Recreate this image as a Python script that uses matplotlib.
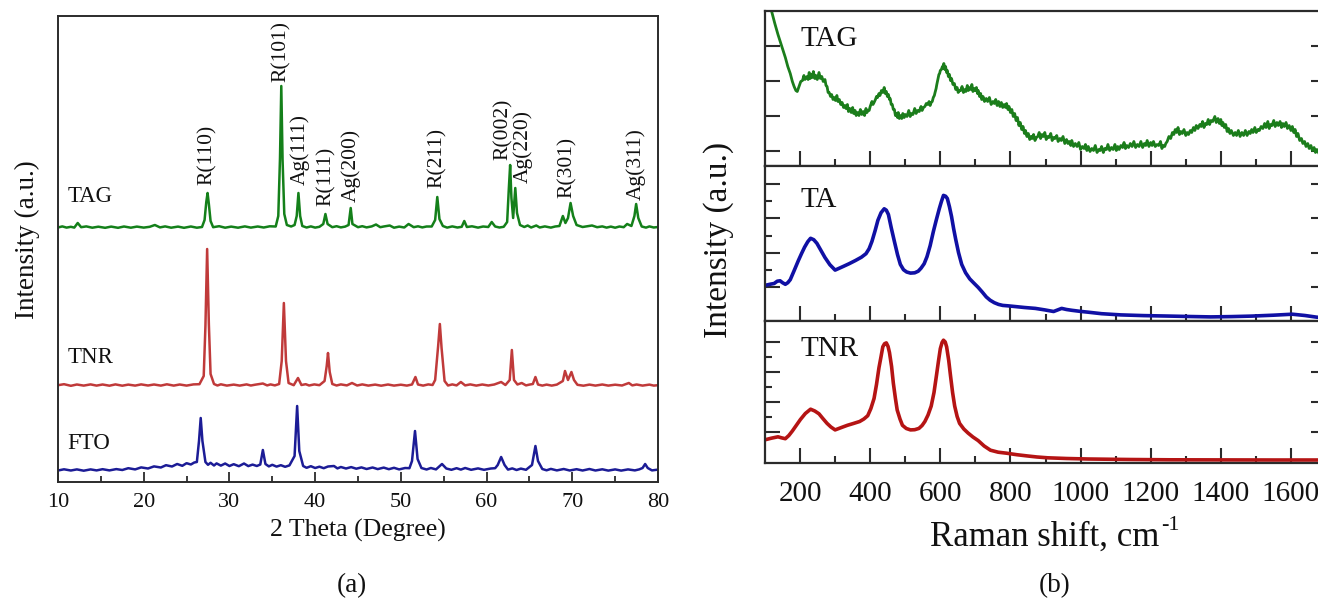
import matplotlib.pyplot as plt
import numpy as np

plt.rcParams['font.family'] = ['Liberation Serif', 'DejaVu Serif']

# ---------------- data: XRD (2theta, counts above own baseline) ----------------
xrd_samples = ["TAG", "TNR", "FTO"]
xrd_offsets = [254, 96, 11]

tag_xrd = [
    (10.0, 0.5), (10.5, 1.6), (11.0, 0.4), (11.5, 1.2), (11.9, 0.4), (12.3, 5), (12.7, 0.8),
    (13.3, 1.6), (14.0, 0.3), (14.7, 1.3), (15.5, 0.2), (16.2, 1.4), (17.0, 0.2), (17.7, 1.5),
    (18.5, 0.3), (19.2, 1.4), (20.0, 0.4), (20.7, 1.2), (21.3, 3), (21.9, 0.6), (22.5, 1.6),
    (23.2, 0.3), (24.0, 1.4), (24.7, 0.2), (25.5, 1.5), (26.2, 0.3), (26.8, 1.0), (27.1, 8),
    (27.3, 26), (27.45, 35), (27.6, 24), (27.8, 7), (28.1, 0.8), (28.8, 1.8), (29.5, 0.3),
    (30.2, 1.4), (31.0, 0.3), (31.8, 1.6), (32.5, 0.4), (33.3, 1.5), (34.0, 0.5), (34.7, 1.7),
    (35.4, 1.5), (35.7, 12), (35.9, 70), (36.05, 142), (36.2, 68), (36.4, 14), (36.7, 3),
    (37.2, 1.5), (37.6, 3), (37.85, 12), (38.05, 35), (38.25, 12), (38.5, 2), (39.0, 0.5),
    (39.5, 1.6), (40.0, 0.4), (40.5, 1.2), (40.95, 4), (41.2, 14), (41.45, 4), (42.0, 0.8),
    (42.5, 1.8), (43.0, 0.6), (43.5, 1.4), (43.9, 3), (44.15, 20), (44.35, 4), (45.0, 0.8),
    (45.5, 1.8), (46.0, 0.6), (46.6, 1.6), (47.1, 3.5), (47.6, 0.8), (48.0, 1.5), (48.7, 2.5),
    (49.2, 0.3), (49.8, 1.4), (50.4, 0.5), (50.9, 4), (51.5, 0.8), (52.0, 1.7), (52.5, 0.6),
    (53.0, 1.5), (53.6, 1.5), (54.0, 8), (54.25, 31), (54.5, 9), (54.9, 2), (55.4, 0.4),
    (56.0, 1.6), (56.6, 0.5), (57.1, 1.2), (57.4, 7), (57.7, 1), (58.3, 1.7), (59.0, 0.4),
    (59.6, 1.5), (60.2, 1.0), (60.6, 6), (61.0, 1.5), (61.5, 0.5), (62.0, 1.2), (62.4, 6),
    (62.6, 40), (62.75, 63), (62.9, 30), (63.1, 10), (63.35, 40), (63.55, 15), (63.9, 3),
    (64.4, 1), (64.8, 2.5), (65.2, 0.5), (65.8, 2.5), (66.2, 0.5), (66.8, 1.6), (67.5, 0.4),
    (68.0, 1.5), (68.5, 2), (68.9, 12), (69.2, 5), (69.5, 10), (69.8, 25), (70.1, 12),
    (70.5, 3), (71.2, 1), (71.8, 1.8), (72.3, 2.5), (72.9, 0.8), (73.5, 1.6), (74.0, 0.4),
    (74.5, 1.4), (75.0, 0.3), (75.5, 1.5), (76.0, 0.8), (76.4, 4), (76.9, 2), (77.25, 12),
    (77.45, 24), (77.7, 10), (78.1, 1.5), (78.6, 0.4), (79.0, 1.6), (79.5, 0.5), (80.0, 1.0),
]

tnr_xrd = [
    (10.0, 0.8), (10.7, 1.8), (11.5, 0.2), (12.2, 1.5), (13.0, 0.4), (13.8, 1.6), (14.5, 0.4),
    (15.2, 1.5), (16.0, 0.3), (16.7, 1.6), (17.5, 0.3), (18.2, 1.4), (19.0, 0.4), (19.7, 1.6),
    (20.5, 0.5), (21.2, 1.5), (22.0, 0.4), (22.7, 1.7), (23.5, 0.4), (24.2, 1.5), (25.0, 0.4),
    (25.8, 1.6), (26.5, 1.8), (27.0, 10), (27.2, 60), (27.4, 137), (27.6, 62), (27.8, 12),
    (28.2, 2), (28.6, 0.5), (29.0, 1.7), (29.7, 0.4), (30.5, 1.4), (31.2, 0.4), (32.0, 1.6),
    (32.5, 0.5), (33.0, 1.3), (33.9, 2.5), (34.4, 0.6), (34.8, 1.6), (35.3, 0.6), (35.8, 2),
    (36.1, 25), (36.35, 83), (36.6, 25), (36.9, 3), (37.5, 0.8), (38.0, 8), (38.4, 1),
    (38.9, 1.8), (39.3, 0.5), (39.9, 1.6), (40.5, 0.8), (41.1, 5), (41.35, 20), (41.5, 33),
    (41.7, 14), (42.0, 2), (42.5, 0.5), (43.0, 1.6), (43.7, 0.6), (44.3, 3), (44.9, 0.5),
    (45.5, 1.6), (46.2, 0.4), (47.0, 1.4), (47.7, 0.3), (48.5, 1.5), (49.2, 0.4), (50.0, 1.3),
    (50.7, 0.4), (51.3, 1.5), (51.7, 9), (52.0, 1.5), (52.6, 0.4), (53.2, 1.6), (53.7, 1.0),
    (54.0, 6), (54.35, 40), (54.55, 62), (54.75, 38), (55.1, 5), (55.5, 0.5), (56.0, 1.6),
    (56.5, 0.6), (57.0, 4), (57.5, 0.6), (58.1, 1.6), (58.8, 0.4), (59.5, 1.5), (60.2, 0.5),
    (60.9, 1.5), (61.7, 4), (62.2, 1), (62.7, 6), (62.95, 36), (63.2, 6), (63.6, 1.5),
    (64.1, 3), (64.6, 0.6), (65.0, 1.4), (65.4, 2), (65.7, 9), (66.0, 1.5), (66.5, 0.4),
    (67.0, 1.4), (67.6, 0.4), (68.2, 1.4), (68.9, 5), (69.15, 15), (69.5, 6), (69.9, 14),
    (70.2, 6), (70.6, 1.2), (71.3, 0.3), (72.0, 1.4), (72.7, 0.4), (73.5, 1.5), (74.2, 0.4),
    (75.0, 1.3), (75.8, 0.5), (76.6, 3), (77.0, 0.6), (77.5, 1.5), (78.2, 0.4), (79.0, 1.4),
    (79.5, 0.4), (80.0, 0.8),
]

fto_xrd = [
    (10.0, 0.5), (10.7, 1.7), (11.5, 0.5), (12.2, 1.6), (13.0, 0.3), (13.8, 1.6), (14.5, 0.6),
    (15.2, 1.8), (16.0, 0.6), (16.8, 1.9), (17.5, 1.0), (18.2, 2.8), (19.0, 1.6), (19.7, 3.6),
    (20.5, 2.5), (21.2, 4.6), (22.0, 3.5), (22.6, 5.8), (23.3, 4.5), (23.9, 7.0), (24.5, 5.2),
    (25.0, 7.8), (25.5, 6.5), (25.9, 8.5), (26.2, 9), (26.45, 30), (26.65, 53), (26.85, 30),
    (27.2, 9), (27.5, 6.2), (27.8, 8.2), (28.2, 5.5), (28.5, 7.6), (29.0, 5.4), (29.5, 7.5),
    (30.0, 5.0), (30.5, 6.8), (31.1, 4.8), (31.7, 7.5), (32.2, 4.9), (32.7, 6.4), (33.2, 5.0),
    (33.6, 6.5), (33.9, 21), (34.2, 7), (34.6, 4.6), (35.0, 6.2), (35.5, 4.4), (36.0, 5.8),
    (36.5, 4.2), (37.0, 5.6), (37.6, 15), (37.9, 65), (38.15, 20), (38.6, 5), (39.0, 3.2),
    (39.5, 4.8), (40.0, 3.0), (40.5, 4.3), (41.0, 2.8), (41.5, 4.5), (42.2, 5), (42.6, 2.6),
    (43.0, 4.0), (43.6, 2.5), (44.2, 3.9), (44.8, 2.3), (45.4, 3.6), (46.0, 2.0), (46.7, 3.5),
    (47.3, 1.9), (48.0, 3.4), (48.6, 1.8), (49.2, 3.2), (49.8, 1.6), (50.5, 3.0), (51.0, 2.8),
    (51.3, 10), (51.65, 40), (51.95, 12), (52.4, 3), (53.0, 1.5), (53.5, 3.0), (54.1, 1.6),
    (54.8, 7), (55.3, 2.5), (55.9, 1.2), (56.5, 2.8), (57.0, 1.4), (57.5, 3.0), (58.2, 1.2),
    (59.0, 2.6), (59.7, 1.2), (60.5, 2.5), (61.0, 2.8), (61.3, 6), (61.7, 14), (62.1, 6),
    (62.5, 1.4), (63.0, 2.6), (63.5, 1.0), (64.0, 2.4), (64.6, 1.2), (65.3, 6), (65.7, 25),
    (66.0, 10), (66.5, 2), (67.0, 0.7), (67.5, 2.1), (68.2, 0.6), (69.0, 2.0), (69.7, 0.5),
    (70.5, 1.8), (71.2, 0.5), (72.0, 2.0), (72.7, 0.5), (73.5, 1.7), (74.2, 0.4), (75.0, 1.6),
    (75.7, 0.4), (76.5, 1.6), (77.3, 0.6), (77.8, 1.6), (78.2, 3), (78.5, 7), (78.8, 3),
    (79.3, 0.6), (80.0, 1.4),
]

xrd_colors = ["#14801a", "#c03a3a", "#1c1c96"]

# peak labels: (label, 2theta, height where text starts)
peak_labels = ["R(110)", "R(101)", "Ag(111)", "R(111)", "Ag(200)",
               "R(211)", "R(002)", "Ag(220)", "R(301)", "Ag(311)"]
peak_pos = [27.4, 36.0, 38.2, 41.3, 44.2, 54.2, 61.9, 64.2, 69.4, 77.4]
peak_text_y = [297, 400, 297, 276, 280, 294, 322, 299, 284, 282]

# ---------------- data: Raman (shift in cm-1, intensity) ----------------
tag_raman = [
    (112, 165), (119, 154), (128, 142), (137, 131), (147, 120), (158, 108), (165, 99),
    (172, 92), (178, 84), (183, 79), (188, 75), (192, 74), (197, 79), (202, 84), (207, 85),
    (211, 90), (214, 86), (220, 89), (223, 86), (226, 93), (229, 87), (232, 91), (235, 88),
    (238, 94), (242, 87), (245, 90), (249, 86), (254, 93), (258, 87), (262, 89), (266, 84),
    (271, 86), (274, 80), (277, 79), (280, 73), (283, 73), (287, 69), (290, 71), (294, 66),
    (298, 68), (301, 65), (305, 70), (308, 64), (312, 66), (316, 61), (320, 63), (324, 58),
    (328, 60), (331, 57), (335, 61), (338, 54), (342, 57), (346, 53), (350, 58), (353, 52),
    (357, 55), (360, 50), (364, 53), (368, 50), (372, 56), (376, 51), (380, 54), (384, 50),
    (388, 57), (391, 53), (393, 55), (397, 55), (400, 59), (403, 62), (405, 64), (408, 61),
    (411, 63), (415, 66), (418, 69), (421, 68), (425, 72), (428, 70), (432, 75), (436, 73),
    (440, 78), (443, 72), (446, 74), (449, 69), (452, 71), (455, 66), (457, 67), (460, 61),
    (463, 61), (466, 56), (469, 56), (472, 50), (475, 52), (478, 48), (480, 53), (483, 47),
    (486, 50), (490, 47), (493, 52), (497, 48), (500, 51), (505, 49), (510, 55), (514, 49),
    (518, 52), (522, 51), (527, 57), (531, 52), (535, 55), (540, 54), (545, 59), (548, 55),
    (552, 58), (556, 59), (560, 62), (564, 61), (568, 64), (571, 60), (574, 63), (577, 64),
    (580, 68), (583, 70), (585, 73), (588, 77), (590, 81), (593, 86), (596, 91), (598, 92),
    (600, 95), (603, 96), (606, 99), (608, 97), (610, 102), (613, 96), (615, 99), (618, 93),
    (620, 95), (623, 89), (626, 91), (629, 85), (632, 87), (636, 81), (640, 82), (644, 76),
    (648, 78), (651, 73), (655, 75), (658, 75), (662, 79), (666, 73), (670, 76), (673, 74),
    (677, 80), (680, 75), (684, 78), (687, 76), (690, 81), (693, 74), (697, 77), (700, 75),
    (703, 78), (706, 72), (708, 75), (712, 69), (715, 72), (718, 66), (722, 69), (726, 64),
    (731, 67), (735, 64), (740, 68), (745, 61), (750, 64), (754, 62), (758, 66), (762, 60),
    (766, 64), (770, 59), (774, 63), (778, 58), (782, 61), (786, 58), (789, 62), (793, 56),
    (796, 59), (800, 53), (804, 56), (808, 49), (812, 52), (816, 45), (820, 48), (824, 40),
    (828, 43), (832, 36), (836, 39), (840, 32), (843, 35), (847, 29), (851, 32), (855, 26),
    (859, 29), (862, 27), (866, 31), (870, 25), (874, 28), (878, 29), (882, 33), (886, 27),
    (890, 31), (894, 29), (898, 33), (902, 26), (906, 29), (910, 28), (915, 32), (919, 25),
    (923, 28), (927, 27), (932, 30), (936, 24), (941, 27), (945, 25), (950, 29), (955, 22),
    (960, 26), (964, 22), (968, 24), (972, 20), (975, 25), (980, 19), (985, 22), (990, 19),
    (995, 23), (1000, 16), (1005, 19), (1010, 17), (1014, 21), (1018, 15), (1022, 19),
    (1027, 14), (1032, 17), (1037, 15), (1042, 20), (1047, 13), (1052, 16), (1056, 15),
    (1060, 19), (1065, 13), (1069, 17), (1074, 16), (1078, 21), (1083, 15), (1088, 18),
    (1093, 16), (1098, 21), (1102, 15), (1106, 19), (1110, 16), (1115, 20), (1120, 18),
    (1124, 23), (1128, 17), (1132, 20), (1137, 18), (1142, 22), (1147, 19), (1152, 24),
    (1157, 18), (1162, 21), (1167, 19), (1172, 24), (1177, 18), (1182, 22), (1186, 20),
    (1190, 25), (1195, 19), (1200, 23), (1204, 20), (1208, 24), (1213, 19), (1218, 21),
    (1223, 20), (1228, 24), (1232, 17), (1236, 20), (1240, 19), (1243, 22), (1247, 24),
    (1252, 29), (1257, 27), (1262, 33), (1266, 31), (1270, 36), (1274, 33), (1278, 38),
    (1282, 31), (1286, 34), (1290, 32), (1295, 36), (1300, 30), (1304, 33), (1308, 31),
    (1313, 35), (1317, 33), (1322, 38), (1326, 35), (1330, 40), (1335, 37), (1340, 41),
    (1344, 39), (1348, 44), (1352, 38), (1356, 42), (1360, 41), (1364, 46), (1368, 41),
    (1372, 45), (1377, 44), (1383, 49), (1387, 43), (1392, 47), (1396, 42), (1400, 46),
    (1403, 40), (1406, 43), (1410, 38), (1414, 41), (1418, 34), (1422, 37), (1426, 32),
    (1430, 35), (1436, 30), (1441, 33), (1445, 30), (1450, 35), (1455, 29), (1460, 33),
    (1465, 30), (1470, 35), (1475, 30), (1480, 34), (1484, 32), (1488, 36), (1492, 33),
    (1497, 38), (1501, 33), (1506, 36), (1510, 35), (1515, 39), (1520, 37), (1525, 42),
    (1529, 38), (1534, 44), (1538, 37), (1542, 41), (1546, 40), (1551, 45), (1555, 39),
    (1560, 43), (1564, 40), (1569, 44), (1573, 38), (1577, 42), (1581, 39), (1586, 43),
    (1590, 37), (1595, 40), (1600, 35), (1604, 39), (1608, 33), (1612, 36), (1616, 29),
    (1620, 32), (1625, 25), (1630, 27), (1634, 22), (1639, 24), (1643, 19), (1648, 22),
    (1652, 17), (1657, 20), (1661, 15), (1666, 18), (1670, 13), (1674, 16), (1680, 12),
    (1685, 14), (1692, 11), (1700, 12),
]

ta_raman = [
    (100, 35.3), (115, 36.5), (126, 37.2), (135, 39.5), (143, 39.9), (150, 38), (158, 36.4),
    (165, 38), (172, 41), (183, 50), (195, 60), (204, 67), (213, 73.6), (222, 79),
    (230, 82.4), (239, 81), (248, 77.4), (260, 70), (271, 63.2), (285, 56), (300, 50.6),
    (312, 52.5), (324, 54.4), (340, 57), (358, 60.2), (375, 63.5), (388, 67), (397, 72),
    (405, 79.3), (414, 90), (422, 100.4), (431, 108), (440, 111.9), (446, 110.5),
    (452, 106.2), (460, 93), (469, 79.3), (478, 66), (486, 56.3), (495, 51), (504, 48.7),
    (515, 47.6), (527, 47.9), (537, 49.5), (545, 52.5), (554, 57), (562, 64), (571, 75),
    (580, 88.9), (588, 100), (597, 111.9), (603, 119), (609, 125.3), (615, 124.5),
    (620, 122.2), (626, 114), (632, 104.2), (638, 92), (644, 81.2), (652, 68), (661, 56.3),
    (672, 48), (684, 41.8), (696, 37.5), (708, 33.3), (720, 28.5), (731, 23.8), (742, 20.5),
    (754, 18), (766, 16.3), (778, 15.3), (795, 14.8), (812, 14.2), (840, 13.2), (871, 12.3),
    (898, 10.8), (923, 9.2), (935, 10.8), (946, 12.3), (960, 11.2), (975, 10.4), (1000, 9.3),
    (1022, 8.5), (1060, 7), (1115, 5.8), (1180, 5.1), (1255, 4.6), (1310, 4.2), (1371, 3.8),
    (1430, 4.1), (1488, 4.6), (1550, 5.5), (1604, 6.5), (1640, 5.2), (1674, 3.5), (1700, 3),
]

tnr_raman = [
    (100, 22.7), (118, 24.3), (137, 25.7), (148, 24.6), (158, 23.8), (168, 27), (178, 31.5),
    (190, 37.5), (201, 43), (215, 49), (230, 53.3), (242, 51.5), (254, 48.7), (265, 44),
    (277, 39.1), (288, 35.5), (300, 32.6), (318, 35), (335, 37.2), (352, 39), (370, 41),
    (382, 43.5), (393, 46.8), (402, 54), (411, 64), (418, 78), (425, 94.7), (431, 106),
    (436, 115.7), (441, 118.8), (446, 119.6), (451, 116), (455, 110), (461, 96),
    (466, 79.4), (472, 64), (477, 52.5), (485, 43.5), (492, 37.2), (503, 34), (515, 32.6),
    (527, 32.8), (539, 34.1), (548, 37), (556, 41), (565, 47.5), (574, 56.4), (582, 70),
    (589, 87), (595, 102), (600, 113.8), (605, 120), (609, 122.3), (614, 120.5),
    (618, 115.7), (624, 102), (629, 87), (635, 70), (641, 56.4), (648, 46), (655, 39.1),
    (667, 33.5), (679, 29.5), (693, 25.5), (708, 21.9), (725, 16.5), (743, 12.3),
    (765, 10.3), (789, 9.3), (818, 7.8), (847, 6.6), (876, 5.5), (906, 4.7), (960, 4),
    (1022, 3.5), (1140, 3), (1255, 2.7), (1400, 2.6), (1550, 2.5), (1700, 2.5),
]

raman_samples = ["TAG", "TA", "TNR"]
raman_colors = ["#1b7d1b", "#1010a4", "#b51414"]

# ---------------- figure ----------------
W, H = 1318, 600
fig = plt.figure(figsize=(W / 100, H / 100), dpi=100)


def px_axes(x0, y0, x1, y1):
    # axes rectangle from pixel box (top-left origin)
    return fig.add_axes([x0 / W, 1 - y1 / H, (x1 - x0) / W, (y1 - y0) / H])


spine_c = "#2b2b2b"
text_c = "#111111"

# ---- panel (a): XRD ----
ax = px_axes(58, 16, 658, 482)
for name, off, data, col in zip(xrd_samples, xrd_offsets, [tag_xrd, tnr_xrd, fto_xrd], xrd_colors):
    arr = np.array(data)
    ax.plot(arr[:, 0], arr[:, 1] + off, color=col, lw=1.8, solid_joinstyle="round")

ax.set_xlim(10, 80)
ax.set_ylim(0, 466)
ax.set_xticks(np.arange(10, 81, 10))
ax.set_xticks(np.arange(15, 80, 10), minor=True)
ax.set_yticks([])
ax.tick_params(axis="x", which="major", direction="in", length=7, width=1.3,
               labelsize=16, pad=8, colors=spine_c, labelcolor=text_c)
ax.tick_params(axis="x", which="minor", direction="in", length=4, width=1.3, colors=spine_c)
for s in ax.spines.values():
    s.set_color(spine_c)
    s.set_linewidth(1.4)

for lab, x, y in zip(peak_labels, peak_pos, peak_text_y):
    ax.text(x, y, lab, rotation=90, ha="center", va="bottom", fontsize=15.5, color=text_c)

sample_text_y = [280, 119, 33]
for name, y in zip(xrd_samples, sample_text_y):
    ax.text(11.1, y, name, ha="left", va="baseline", fontsize=16.5, color=text_c)

fig.text(358 / W, 1 - 530 / H, "2 Theta (Degree)", ha="center", va="center", fontsize=18.5, color=text_c)
fig.text(27 / W, 1 - 240 / H, "Intensity (a.u.)", ha="center", va="center", rotation=90,
         fontsize=19.5, color=text_c)
fig.text(352 / W, 1 - 586 / H, "(a)", ha="center", va="center", fontsize=19.5, color=text_c)

# ---- panel (b): Raman, three stacked axes ----
rows = [(10.7, 165.5), (165.5, 320.7), (320.7, 462.5)]
raman_data = [tag_raman, ta_raman, tnr_raman]
major_y = [[119.5, 84.5, 49.5, 14.5],
           [136.7, 102.7, 67.7, 33.7],
           [120.5, 90.5, 60.5, 30.5]]
label_y = [119.5, 113.7, 106.5]

for i, ((y0, y1), data, col, name) in enumerate(zip(rows, raman_data, raman_colors, raman_samples)):
    bx = px_axes(765, y0, 1326, y1)
    arr = np.array(data)
    bx.plot(arr[:, 0], arr[:, 1], color=col, lw=2.6 if i else 2.0, solid_joinstyle="round")
    bx.set_xlim(100, 1700)
    bx.set_ylim(0, y1 - y0)
    bx.set_xticks(np.arange(200, 1700, 200))
    bx.set_xticks(np.arange(300, 1700, 200), minor=True)
    bx.set_yticks(major_y[i])
    if i > 0:
        mids = [(a + b) / 2 for a, b in zip(major_y[i][:-1], major_y[i][1:])]
        bx.set_yticks(mids, minor=True)
    bx.tick_params(axis="both", which="major", direction="in", length=11, width=1.5,
                   colors=spine_c, labelcolor=text_c, labelsize=21, pad=13,
                   left=True, right=True, top=False)
    bx.tick_params(axis="both", which="minor", direction="in", length=5, width=1.5,
                   colors=spine_c, left=True, right=True, top=False)
    bx.tick_params(axis="y", labelleft=False)
    if i < 2:
        bx.tick_params(axis="x", labelbottom=False)
    for s in bx.spines.values():
        s.set_color(spine_c)
        s.set_linewidth(1.6)
    bx.text(200, label_y[i], name, ha="left", va="baseline", fontsize=21, color=text_c)

# x label with a small "-1" superscript placed after the main text
xl = fig.text(1045 / W, 1 - 546 / H, "Raman shift, cm", ha="center", va="baseline",
              fontsize=25, color=text_c)
fig.canvas.draw()
bb = xl.get_window_extent()
fig.text((bb.x1 + 2) / W, (bb.y1 + 5) / H, "-1", ha="left", va="top", fontsize=16, color=text_c)

fig.text(719 / W, 1 - 240 / H, "Intensity (a.u.)", ha="center", va="center", rotation=90,
         fontsize=24, color=text_c)
fig.text(1055 / W, 1 - 586 / H, "(b)", ha="center", va="center", fontsize=19.5, color=text_c)

fig.savefig("out.png", dpi=100)
